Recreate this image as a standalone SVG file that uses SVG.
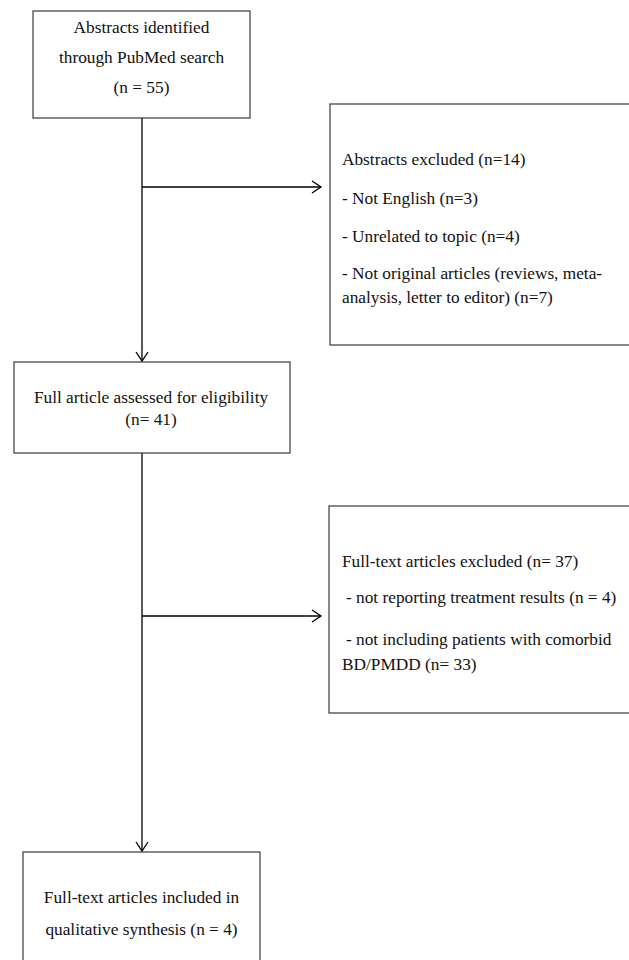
<svg xmlns="http://www.w3.org/2000/svg" width="629" height="960" viewBox="0 0 629 960">
<style>
.box{fill:#fff;stroke:#3a3a3a;stroke-width:1.2}
.t{font-family:"Liberation Serif","Times New Roman",serif;font-size:17.3px;fill:#111}
.c{text-anchor:middle}
.ln{fill:none;stroke:#000;stroke-width:1.3}
</style>
<defs>
<marker id="arr" markerWidth="12" markerHeight="14" refX="10" refY="7" orient="auto" markerUnits="userSpaceOnUse">
<path d="M1,1 L10,7 L1,13" fill="none" stroke="#000" stroke-width="1.3"/>
</marker>
</defs>
<rect width="629" height="960" fill="#fff"/>
<g id="connectors">
<line class="ln" x1="142" y1="118" x2="142" y2="361" marker-end="url(#arr)"/>
<line class="ln" x1="142" y1="187" x2="321" y2="187" marker-end="url(#arr)"/>
<line class="ln" x1="142" y1="453" x2="142" y2="851" marker-end="url(#arr)"/>
<line class="ln" x1="142" y1="616" x2="321" y2="616" marker-end="url(#arr)"/>
</g>
<g id="n1">
<rect class="box" x="33" y="11" width="217" height="107"/>
<text class="t c" x="141.5" y="33">Abstracts identified</text>
<text class="t c" x="141.5" y="63">through PubMed search</text>
<text class="t c" x="141.5" y="93">(n = 55)</text>
</g>
<g id="n2">
<rect class="box" x="330" y="104" width="310" height="241"/>
<text class="t" x="342" y="165">Abstracts excluded (n=14)</text>
<text class="t" x="342" y="204">- Not English (n=3)</text>
<text class="t" x="342" y="242">- Unrelated to topic (n=4)</text>
<text class="t" x="342" y="279">- Not original articles (reviews, meta-</text>
<text class="t" x="342" y="303">analysis, letter to editor) (n=7)</text>
</g>
<g id="n3">
<rect class="box" x="14" y="362" width="276" height="91"/>
<text class="t c" x="151" y="403">Full article assessed for eligibility</text>
<text class="t c" x="151" y="425">(n= 41)</text>
</g>
<g id="n4">
<rect class="box" x="329" y="506" width="311" height="207"/>
<text class="t" x="342" y="567">Full-text articles excluded (n= 37)</text>
<text class="t" x="346" y="603">- not reporting treatment results (n = 4)</text>
<text class="t" x="346" y="645">- not including patients with comorbid</text>
<text class="t" x="342" y="670">BD/PMDD (n= 33)</text>
</g>
<g id="n5">
<rect class="box" x="23" y="852" width="237" height="115"/>
<text class="t c" x="141.5" y="903">Full-text articles included in</text>
<text class="t c" x="141.5" y="935">qualitative synthesis (n = 4)</text>
</g>
</svg>
